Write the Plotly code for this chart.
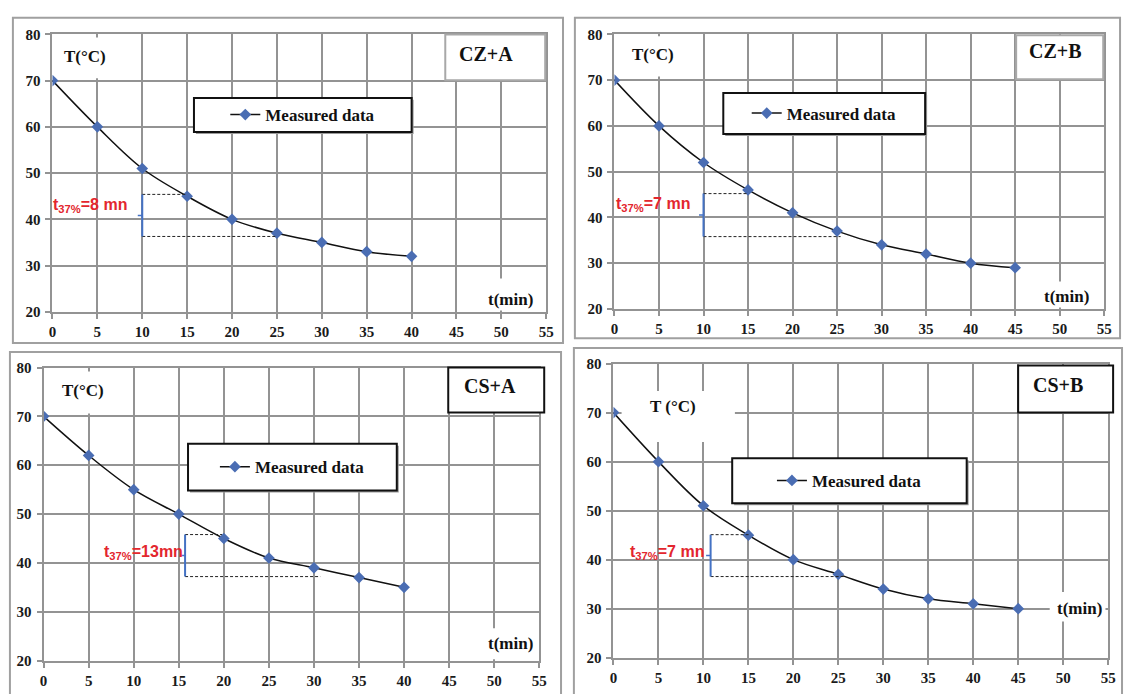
import plotly.graph_objects as go

# ---------------- data ----------------
time_A = [0, 5, 10, 15, 20, 25, 30, 35, 40]
time_B = [0, 5, 10, 15, 20, 25, 30, 35, 40, 45]
temp_CZ_A = [70, 60, 51, 45, 40, 37, 35, 33, 32]
temp_CZ_B = [70, 60, 52, 46, 41, 37, 34, 32, 30, 29]
temp_CS_A = [70, 62, 55, 50, 45, 41, 39, 37, 35]
temp_CS_B = [70, 60, 51, 45, 40, 37, 34, 32, 31, 30]
panel_titles = ["CZ+A", "CZ+B", "CS+A", "CS+B"]
t37_labels = ["t<sub>37%</sub>=8 mn", "t<sub>37%</sub>=7 mn", "t<sub>37%</sub>=13mn", "t<sub>37%</sub>=7 mn"]
# t37 bracket: x of bracket, top T, bottom T, end of top dash, end of bottom dash
bracket_x = [10, 10, 15.7, 10.8]
bracket_top = [45.4, 45.2, 45.8, 45.1]
bracket_bot = [36.3, 35.8, 37.2, 36.55]
dash_top_end = [15, 15, 19.8, 15.2]
dash_bot_end = [25, 25.4, 30.7, 25.6]
t37_label_pos = [(4.2, 43.0), (4.3, 42.8), (11.1, 42.2), (6.0, 41.5)]
x_ticks = list(range(0, 60, 5))
y_ticks = list(range(20, 90, 10))

W, H = 1132, 694
def fx(p): return p / W
def fy(p): return 1 - p / H

# plot area pixel boxes (left, right, top, bottom)
areas = [(49, 548, 27, 311), (617, 1112, 27, 308), (40, 541, 368, 668), (616, 1116, 364, 665)]
outer = [(9, 565, 10, 343), (577, 1128, 10, 338), (6, 563, 352, 705), (576, 1130, 348, 705)]
title_boxes = [(446, 547, 27, 74), (1023, 1111, 28, 73), (449, 546, 368, 414), (1025, 1121, 366, 414)]
title_text_pos = [(487, 47), (1063, 44), (491, 387), (1065, 386)]
title_border = ["#a8a8a8", "#a8a8a8", "#111111", "#111111"]
legend_boxes = [(192, 412, 92, 127), (727, 931, 87, 129), (186, 397, 446, 494), (736, 973, 461, 507)]
T_label = ["T(°C)", "T(°C)", "T(°C)", "T (°C)"]
T_label_pos = [(82, 50), (656, 48), (80, 392), (676, 408)]
tmin_pos = [(512, 298), (1074, 295), (512, 650), (1087, 615)]
T_boxes = [(0.3, 6.6, 70.5, 79.3), (0.9, 8.1, 70.8, 79.6), (1.1, 7.7, 70.6, 79.2), (0.9, 13.5, 64.0, 74.4)]
tmin_boxes = [(47.5, 54.6, 20.3, 27.2), (47.6, 53.9, 20.3, 26.0), (47.6, 54.6, 20.3, 26.6), (48.5, 54.7, 27.4, 33.4)]

series = [(time_A, temp_CZ_A), (time_B, temp_CZ_B), (time_A, temp_CS_A), (time_B, temp_CS_B)]

SERIF = "Liberation Serif"
GRID = "#939393"
MARK = "#4a6db3"

fig = go.Figure()
layout = dict(width=W, height=H, margin=dict(l=0, r=0, t=0, b=0),
              paper_bgcolor="white", plot_bgcolor="white", showlegend=True)
shapes, annotations = [], []

for i in range(4):
    n = "" if i == 0 else str(i + 1)
    xa, ya = "x" + n, "y" + n
    l, r, t, b = areas[i]
    axis_common = dict(showgrid=True, gridcolor=GRID, gridwidth=2, showline=True, linecolor=GRID,
                       linewidth=2, mirror=True, ticks="outside", ticklen=5, tickcolor=GRID, tickwidth=2,
                       zeroline=False, fixedrange=True,
                       tickfont=dict(family=SERIF, size=15, color="#1a1a1a", weight="bold"))
    layout["xaxis" + n] = dict(axis_common, domain=[fx(l), fx(r)], range=[0, 55], tickvals=x_ticks,
                               anchor=ya)
    layout["yaxis" + n] = dict(axis_common, domain=[fy(b), fy(t)], range=[20, 80], tickvals=y_ticks,
                               anchor=xa, ticklabelstandoff=2)
    lg = "legend" + n
    tx, ty = series[i]
    fig.add_trace(go.Scatter(x=tx, y=ty, mode="lines+markers", name="Measured data",
                             line=dict(color="#111111", width=1.5, shape="spline"),
                             marker=dict(symbol="diamond", size=9, color=MARK),
                             xaxis=xa, yaxis=ya, legend=lg))
    bl, br, bt, bb = legend_boxes[i]
    layout[lg] = dict(x=fx((bl + br) / 2), y=fy((bt + bb) / 2), xanchor="center", yanchor="middle",
                      bgcolor="rgba(0,0,0,0)", borderwidth=0,
                      font=dict(family=SERIF, size=17, color="#111111", weight="bold"))
    # legend box with slight shadow
    shapes.append(dict(type="rect", xref="paper", yref="paper", x0=fx(bl + 2), x1=fx(br + 2),
                       y0=fy(bb + 2), y1=fy(bt + 2), fillcolor="#9a9a9a", line=dict(width=0),
                       layer="above"))
    shapes.append(dict(type="rect", xref="paper", yref="paper", x0=fx(bl), x1=fx(br),
                       y0=fy(bb), y1=fy(bt), fillcolor="white", line=dict(color="#111111", width=2),
                       layer="above"))
    # outer panel border
    ol, orr, ot, ob = outer[i]
    shapes.append(dict(type="rect", xref="paper", yref="paper", x0=fx(ol), x1=fx(orr),
                       y0=fy(ob), y1=fy(ot), line=dict(color="#a0a0a0", width=2), layer="below"))
    # title box
    cl, cr, ct, cb = title_boxes[i]
    shapes.append(dict(type="rect", xref="paper", yref="paper", x0=fx(cl), x1=fx(cr),
                       y0=fy(cb), y1=fy(ct), fillcolor="white",
                       line=dict(color=title_border[i], width=2), layer="above"))
    px_, py_ = title_text_pos[i]
    annotations.append(dict(xref="paper", yref="paper", x=fx(px_), y=fy(py_), text=panel_titles[i],
                            showarrow=False, xanchor="center", yanchor="middle",
                            font=dict(family=SERIF, size=20, color="#111111", weight="bold")))
    # white boxes behind axis labels (hide gridlines, not the curve)
    for (x0, x1, y0, y1) in (T_boxes[i], tmin_boxes[i]):
        shapes.append(dict(type="rect", xref=xa, yref=ya, x0=x0, x1=x1, y0=y0, y1=y1,
                           fillcolor="white", line=dict(width=0), layer="between"))
    px_, py_ = T_label_pos[i]
    annotations.append(dict(xref="paper", yref="paper", x=fx(px_), y=fy(py_), text=T_label[i],
                            showarrow=False, xanchor="center", yanchor="middle",
                            font=dict(family=SERIF, size=17, color="#111111", weight="bold")))
    px_, py_ = tmin_pos[i]
    annotations.append(dict(xref="paper", yref="paper", x=fx(px_), y=fy(py_), text="t(min)",
                            showarrow=False, xanchor="center", yanchor="middle",
                            font=dict(family=SERIF, size=17, color="#111111", weight="bold")))
    # t37 bracket
    bx, btop, bbot = bracket_x[i], bracket_top[i], bracket_bot[i]
    shapes.append(dict(type="line", xref=xa, yref=ya, x0=bx, x1=dash_top_end[i], y0=btop, y1=btop,
                       line=dict(color="#222222", width=1, dash="3px,2px"), layer="above"))
    shapes.append(dict(type="line", xref=xa, yref=ya, x0=bx, x1=dash_bot_end[i], y0=bbot, y1=bbot,
                       line=dict(color="#222222", width=1, dash="3px,2px"), layer="above"))
    shapes.append(dict(type="line", xref=xa, yref=ya, x0=bx, x1=bx, y0=bbot, y1=btop,
                       line=dict(color="#4472c4", width=2), layer="above"))
    mid = (btop + bbot) / 2
    shapes.append(dict(type="line", xref=xa, yref=ya, x0=bx - 0.5, x1=bx, y0=mid, y1=mid,
                       line=dict(color="#4472c4", width=1.5), layer="above"))
    lx, ly = t37_label_pos[i]
    annotations.append(dict(xref=xa, yref=ya, x=lx, y=ly, text=t37_labels[i], showarrow=False,
                            xanchor="center", yanchor="middle",
                            font=dict(family="Liberation Sans", size=16, color="#e3262e", weight="bold")))

layout["shapes"] = shapes
layout["annotations"] = annotations
fig.update_layout(**layout)
fig.write_html("out.html")
